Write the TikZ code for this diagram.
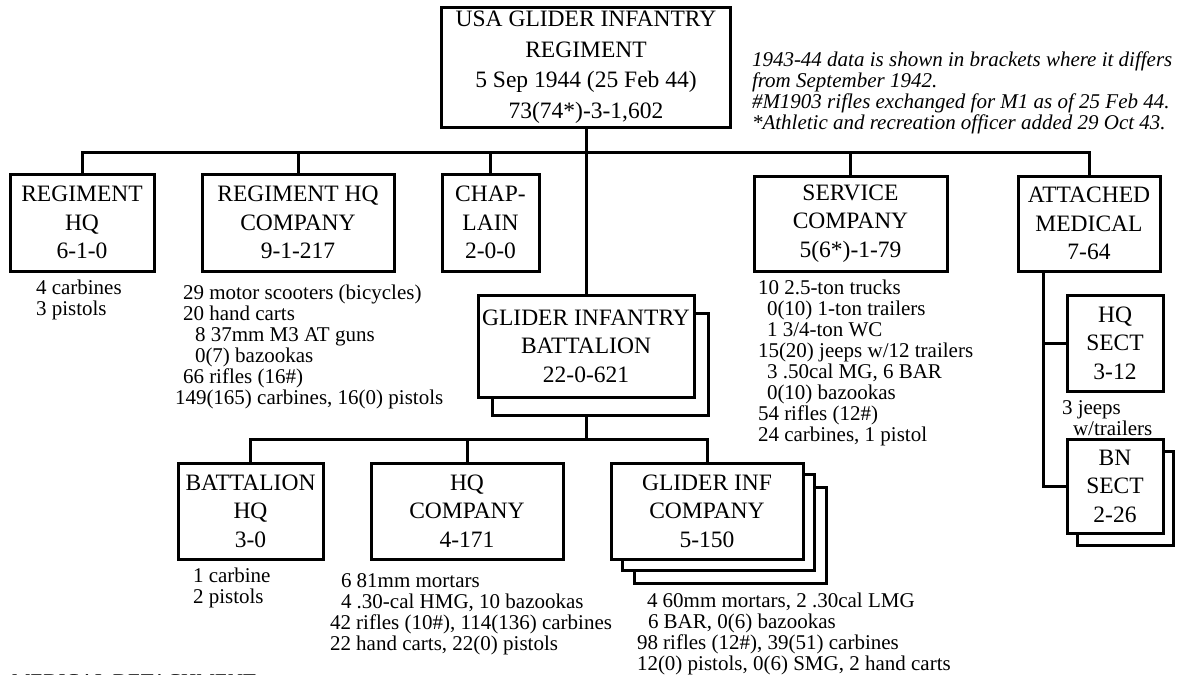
\documentclass[tikz,border=0pt]{standalone}
\usepackage{fontspec}
\setmainfont{Liberation Serif}
\usetikzlibrary{positioning}

\begin{document}
\begin{tikzpicture}[x=1pt, y=-1pt, line width=3pt,
  every node/.style={inner sep=0pt, outer sep=0pt},
  box/.style={draw, fill=white, align=center, font=\fontsize{23.5}{28.5}\selectfont},
  back/.style={draw, fill=white},
  lst/.style={anchor=north west, align=left, font=\fontsize{21}{21}\selectfont},
  note/.style={anchor=north west, align=left, font=\fontsize{21}{21}\selectfont\itshape}]
\useasboundingbox (0,0) rectangle (1179,675);
\node[box, minimum width=289pt, minimum height=120pt, font=\fontsize{23.5}{30.5}\selectfont] (reg) at (586,67) {USA GLIDER INFANTRY\\REGIMENT\\5 Sep 1944 (25 Feb 44)\\73(74*)-3-1,602};
\node[box, minimum width=144pt, minimum height=97pt] (rhq) at (82,222.5) {REGIMENT\\HQ\\6-1-0};
\node[box, minimum width=192pt, minimum height=97pt] (rhqco) at (298,222.5) {REGIMENT HQ\\COMPANY\\9-1-217};
\node[box, minimum width=97pt, minimum height=97pt] (chap) at (490.5,222.5) {CHAP-\\LAIN\\2-0-0};
\node[box, minimum width=193pt, minimum height=95pt] (svc) at (850.5,223.5) {SERVICE\\COMPANY\\5(6*)-1-79};
\node[box, minimum width=142pt, minimum height=95pt] (med) at (1089,223.5) {ATTACHED\\MEDICAL\\7-64};
\node[back, minimum width=216pt, minimum height=102pt] (bnback) at (600,364) {};
\node[box, minimum width=216pt, minimum height=102pt] (bn) at (586,346) {GLIDER INFANTRY\\BATTALION\\22-0-621};
\node[box, minimum width=145pt, minimum height=96pt] (bnhq) at (250.5,511) {BATTALION\\HQ\\3-0};
\node[box, minimum width=192pt, minimum height=96pt] (hqco) at (467,511) {HQ\\COMPANY\\4-171};
\node[back, minimum width=192pt, minimum height=96pt] (ginfback2) at (730,535) {};
\node[back, minimum width=192pt, minimum height=96pt] (ginfback1) at (718,522) {};
\node[box, minimum width=192pt, minimum height=96pt] (ginf) at (707,511) {GLIDER INF\\COMPANY\\5-150};
\node[box, minimum width=96pt, minimum height=96pt] (hqs) at (1115,343) {HQ\\SECT\\3-12};
\node[back, minimum width=96pt, minimum height=94pt] (bnsback) at (1125,498) {};
\node[box, minimum width=96pt, minimum height=94pt] (bns) at (1115,486) {BN\\SECT\\2-26};
\coordinate (bus) at (586,152);
\coordinate (lbus) at (586,439);
\coordinate (mtrunk) at ([xshift=25pt]med.south west);
\draw (reg.south) -- (bn.north);
\draw (rhq.north) |- (bus) -| (med.north);
\foreach \n in {rhqco,chap,svc} \draw (\n.north) -- (\n.north |- bus);
\draw (bnback.south -| lbus) -- (lbus);
\draw (bnhq.north) |- (lbus) -| (ginf.north);
\draw (hqco.north) -- (hqco.north |- lbus);
\draw (mtrunk) |- (bns.west);
\draw (hqs.west) -- (hqs.west -| mtrunk);
\node[note] (notes) at (752,52) {1943-44 data is shown in brackets where it differs\\from September 1942.\\\#M1903 rifles exchanged for M1 as of 25 Feb 44.\\*Athletic and recreation officer added 29 Oct 43.};
\node[lst] (rhqeq) at (36,280) {4 carbines\\3 pistols};
\node[lst] (rhqcoeq) at (175,285) {\hspace*{8pt}29 motor scooters (bicycles)\\\hspace*{8pt}20 hand carts\\\hspace*{20pt}8 37mm M3 AT guns\\\hspace*{20pt}0(7) bazookas\\\hspace*{8pt}66 rifles (16\#)\\149(165) carbines, 16(0) pistols};
\node[lst] (svceq) at (758,280) {10 2.5-ton trucks\\\hspace*{9pt}0(10) 1-ton trailers\\\hspace*{9pt}1 3/4-ton WC\\15(20) jeeps w/12 trailers\\\hspace*{9pt}3 .50cal MG, 6 BAR\\\hspace*{9pt}0(10) bazookas\\54 rifles (12\#)\\24 carbines, 1 pistol};
\node[lst] (hqseq) at (1062,401) {3 jeeps\\\hspace*{11pt}w/trailers};
\node[lst] (bnhqeq) at (193,568) {1 carbine\\2 pistols};
\node[lst] (hqcoeq) at (330,574) {\hspace*{11pt}6 81mm mortars\\\hspace*{11pt}4 .30-cal HMG, 10 bazookas\\42 rifles (10\#), 114(136) carbines\\22 hand carts, 22(0) pistols};
\node[lst] (ginfeq) at (637,593) {\hspace*{10pt}4 60mm mortars, 2 .30cal LMG\\\hspace*{11pt}6 BAR, 0(6) bazookas\\98 rifles (12\#), 39(51) carbines\\12(0) pistols, 0(6) SMG, 2 hand carts};
\node[lst, anchor=base west] (meddet) at (12,688) {MEDICAL DETACHMENT};
\end{tikzpicture}
\end{document}
